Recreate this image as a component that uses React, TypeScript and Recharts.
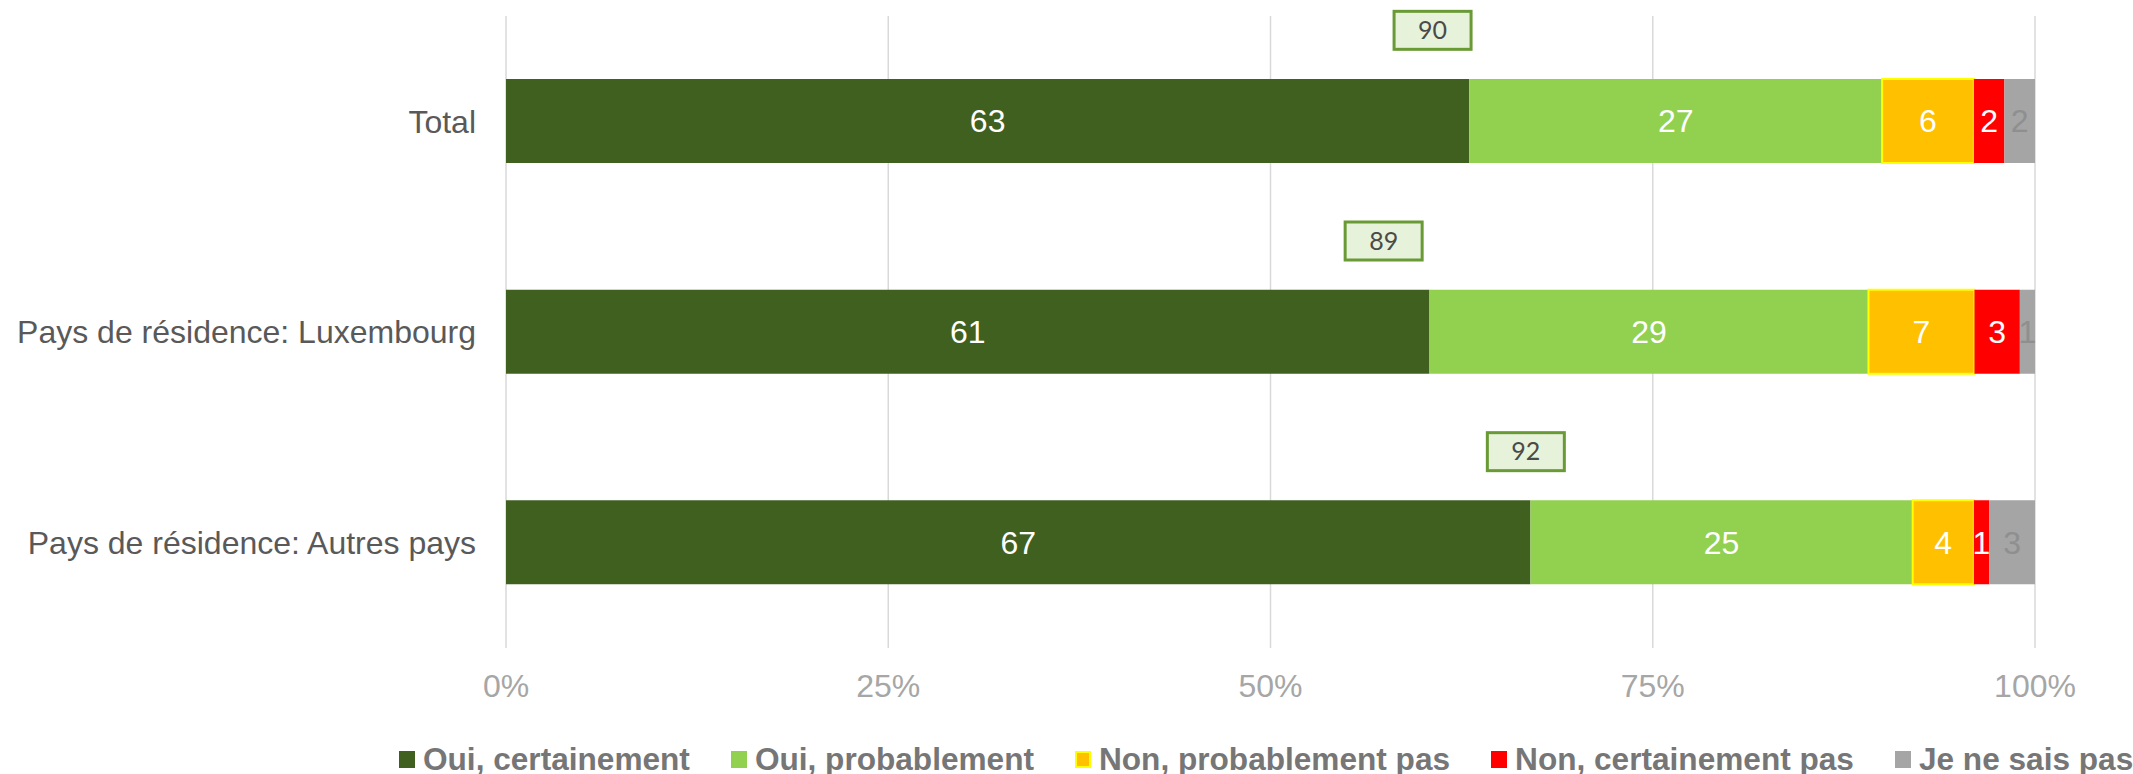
import React from "react";
import {
  BarChart, Bar, XAxis, YAxis, CartesianGrid, LabelList, ReferenceDot,
} from "recharts";

// rows and answer shares (%), bars are drawn as 100% stacks
const groups = ["Total", "Pays de résidence: Luxembourg", "Pays de résidence: Autres pays"];
const ouiCertainement = [63, 61, 67];
const ouiProbablement = [27, 29, 25];
const nonProbablementPas = [6, 7, 4];
const nonCertainementPas = [2, 3, 1];
const jeNeSaisPas = [2, 1, 3];

// net "oui" boxes above each bar, and where they sit along the axis (0..1)
const netOui = [90, 89, 92];
const netBoxPos = [0.606, 0.574, 0.667];

const xTicks = [0, 0.25, 0.5, 0.75, 1];

const SERIES = [
  { key: "oc", name: "Oui, certainement", color: "#406020", label: "#FFFFFF" },
  { key: "op", name: "Oui, probablement", color: "#92D050", label: "#FFFFFF" },
  { key: "np", name: "Non, probablement pas", color: "#FFC000", label: "#FFFFFF", stroke: "#FFFF00" },
  { key: "nc", name: "Non, certainement pas", color: "#FF0000", label: "#FFFFFF" },
  { key: "ns", name: "Je ne sais pas", color: "#A5A5A5", label: "#8F8F8F" },
];

const data = groups.map((g, i) => ({
  name: g,
  oc: ouiCertainement[i],
  op: ouiProbablement[i],
  np: nonProbablementPas[i],
  nc: nonCertainementPas[i],
  ns: jeNeSaisPas[i],
}));

const FONT = "'Liberation Sans', Arial, sans-serif";

function NetBox({ cx, cy, value }: { cx?: number; cy?: number; value: number }) {
  if (cx == null || cy == null) return null;
  const w = 77, h = 38, yc = cy - 91;
  return (
    <g>
      <rect x={cx - w / 2} y={yc - h / 2} width={w} height={h} fill="#E6F2D9" stroke="#6A9A36" strokeWidth={3} />
      <text x={cx} y={yc} dy="0.35em" textAnchor="middle" fontFamily="Lato, 'Open Sans', sans-serif" fontSize={25} fill="#4A4A4A">
        {value}
      </text>
    </g>
  );
}

export default function App() {
  return (
    <div style={{ position: "absolute", left: 0, top: 0, width: 2133, height: 774, background: "#fff", fontFamily: FONT }}>
      <BarChart
        width={2133}
        height={774}
        data={data}
        layout="vertical"
        stackOffset="expand"
        barSize={84}
        margin={{ top: 16, right: 98, bottom: 66, left: 0 }}
      >
        <CartesianGrid horizontal={false} stroke="#D9D9D9" strokeWidth={1.5} />
        <XAxis
          type="number"
          domain={[0, 1]}
          ticks={xTicks}
          tickFormatter={(v: number) => `${Math.round(v * 100)}%`}
          axisLine={false}
          tickLine={false}
          tickSize={0}
          tickMargin={26}
          height={60}
          tick={{ fontSize: 32, fill: "#A6A6A6", fontFamily: FONT }}
        />
        <YAxis
          type="category"
          dataKey="name"
          width={506}
          axisLine={false}
          tickLine={false}
          tickSize={0}
          tickMargin={30}
          tick={{ fontSize: 32, fill: "#595959", fontFamily: FONT }}
        />
        {SERIES.map(s => (
          <Bar
            key={s.key}
            dataKey={s.key}
            name={s.name}
            stackId="a"
            fill={s.color}
            stroke={s.stroke}
            strokeWidth={s.stroke ? 2 : 0}
            isAnimationActive={false}
          >
            <LabelList
              dataKey={s.key}
              position="center"
              fill={s.label}
              fontSize={32}
              fontFamily={FONT}
            />
          </Bar>
        ))}
        {groups.map((g, i) => (
          <ReferenceDot
            key={g}
            x={netBoxPos[i]}
            y={g}
            r={0}
            ifOverflow="visible"
            shape={(p: any) => <NetBox cx={p.cx} cy={p.cy} value={netOui[i]} />}
          />
        ))}
      </BarChart>

      {/* legend */}
      <div style={{ position: "absolute", left: 399, top: 739, height: 40, display: "flex", alignItems: "center", gap: 41 }}>
        {SERIES.map(s => (
          <div key={s.key} style={{ display: "flex", alignItems: "center", gap: 8 }}>
            <div
              style={{
                width: s.stroke ? 12 : 16,
                height: s.stroke ? 13 : 17,
                background: s.color,
                border: s.stroke ? `2px solid ${s.stroke}` : "none",
              }}
            />
            <span style={{ fontSize: 31.6, fontWeight: "bold", color: "#767676", whiteSpace: "nowrap" }}>{s.name}</span>
          </div>
        ))}
      </div>
    </div>
  );
}
